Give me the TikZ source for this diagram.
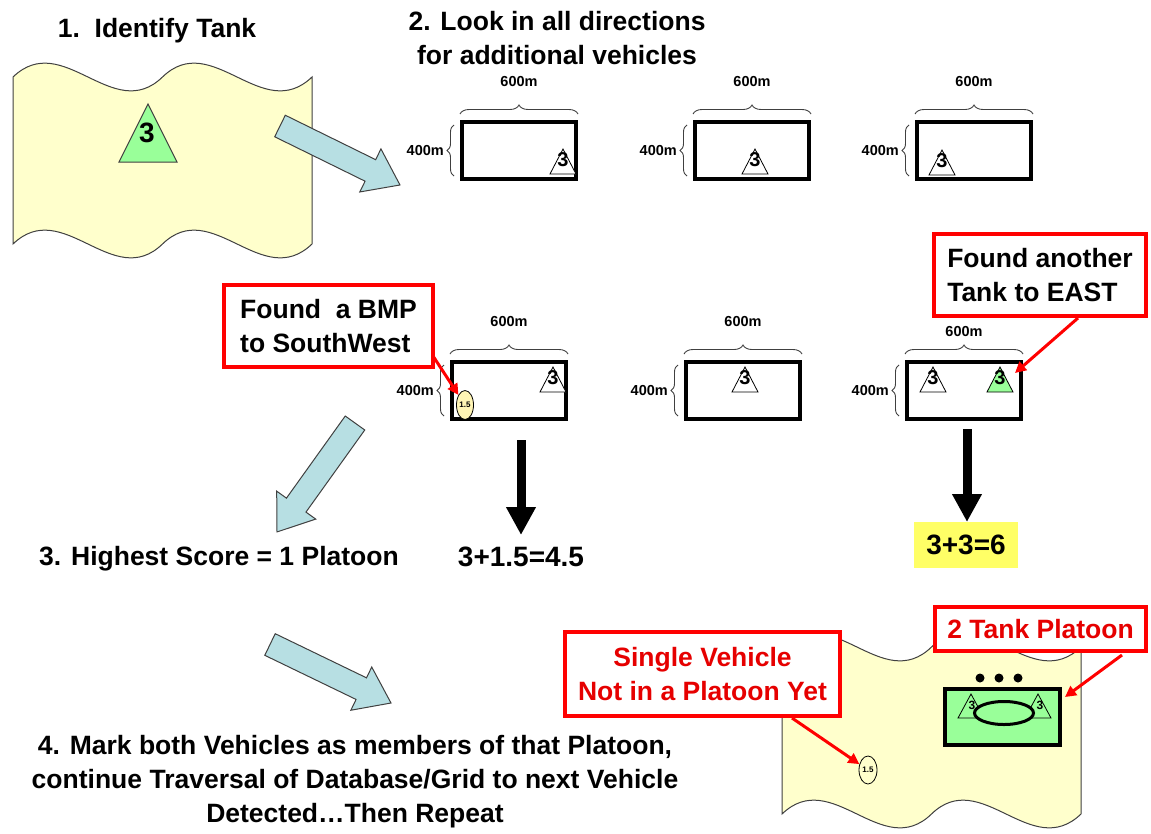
\documentclass[tikz,border=0pt]{standalone}
\usepackage{fontspec}
\setmainfont{Liberation Sans}
\usetikzlibrary{arrows.meta,decorations.pathreplacing,shapes.geometric}
\definecolor{flagY}{HTML}{FFFFCC}
\definecolor{tankG}{HTML}{99FF99}
\definecolor{arrB}{HTML}{B7DFE3}
\definecolor{edgeG}{HTML}{404040}
\definecolor{sumY}{HTML}{FFFF66}
\definecolor{bmpY}{HTML}{FFF5B5}
\definecolor{callR}{HTML}{FF0000}
\definecolor{txtR}{HTML}{E60000}
\newcommand{\fntBig}{\bfseries\fontsize{26.5}{34}\selectfont}
\newcommand{\fntSum}{\bfseries\fontsize{28}{30}\selectfont}
\newcommand{\fntDim}{\bfseries\fontsize{14.5}{16}\selectfont}
\newcommand{\fntThree}{\bfseries\fontsize{20}{20}\selectfont}
\newcommand{\fntTiny}{\bfseries\fontsize{8}{8}\selectfont}
\newcommand{\fntMini}{\bfseries\fontsize{12}{12}\selectfont}
% wavy flag
\newcommand{\flagshape}[2]{%
  \draw[flag, shift={(#1,#2)}] (13,77) .. controls (63,29) and (113,125) .. (162.5,77)
    .. controls (212,29) and (262,125) .. (312,77) -- (312,244)
    .. controls (262,292) and (212,196) .. (162.5,244)
    .. controls (113,292) and (63,196) .. (13,244) -- cycle;}
% block arrow: tail centre x, y, angle, length
\newcommand{\blockarrow}[4]{%
  \begin{scope}[shift={(#1,#2)},rotate=#3]
    \draw[barrow] (0,-12) -- ({#4-33},-12) -- ({#4-33},-24) -- (#4,0)
      -- ({#4-33},24) -- ({#4-33},12) -- (0,12) -- cycle;
  \end{scope}}
% search cell: name, left, top, y of 600m label
\newcommand{\gridcell}[4]{%
  \node[cell] (#1) at ({#2+59},{#3+30.5}) {};
  \draw[brc=9pt] (#2,{#3-6}) -- ({#2+118},{#3-6});
  \draw[brc=7pt] ({#2-6},{#3+56}) -- ({#2-6},{#3+5});
  \node[dim] (#1w) at ({#2+59},#4) {600m};
  \node[dim,anchor=east] (#1h) at ({#2-16},{#3+31}) {400m};}
% tank triangle: name, apex x, apex y, fill
\newcommand{\tank}[4]{%
  \draw[tri, fill=#4] (#2,#3) -- ({#2+13},{#3+25}) -- ({#2-13},{#3+25}) -- cycle;
  \node[three] (#1) at (#2,{#3+11}) {3};}
\begin{document}
\begin{tikzpicture}[x=1pt,y=-1pt,
  txt/.style={inner sep=0pt, outer sep=0pt, align=center, font=\fntBig},
  flag/.style={fill=flagY, draw=edgeG, line width=1pt},
  barrow/.style={fill=arrB, draw=edgeG, line width=1pt, line join=miter},
  cell/.style={draw=black, line width=4pt, minimum width=114pt, minimum height=57pt, inner sep=0pt, outer sep=0pt},
  brc/.style={decorate, decoration={brace, amplitude=#1}, draw=edgeG, line width=0.9pt},
  brc/.default=9pt,
  dim/.style={inner sep=0pt, font=\fntDim},
  tri/.style={draw=black, line width=0.8pt, line join=miter},
  three/.style={inner sep=0pt, font=\fntThree},
  callout/.style={draw=callR, line width=4pt, fill=white, inner sep=0pt, outer sep=0pt, font=\fntBig},
  redarr/.style={draw=callR, line width=3pt, -{Triangle[length=11pt,width=11pt]}},
  downarr/.style={draw=black, line width=9pt, -{Triangle[length=28pt,width=28pt]}},
  oval/.style={draw=black, ellipse, line width=0.8pt, inner sep=0pt, font=\fntTiny}
]
\useasboundingbox (0,0) rectangle (1151,833);

% ---------- step 1 ----------
\node[txt] (t1) at (157,31) {1.\ \ Identify Tank};
\flagshape{0}{0}
\draw[fill=tankG, draw=edgeG, line width=1pt] (148,104) -- (177,162) -- (119,162) -- cycle;
\node[inner sep=0pt, font=\bfseries\fontsize{28}{28}\selectfont] (bigthree) at (147,133) {3};
\blockarrow{280}{126}{-26.18}{133.7}

% ---------- step 2 ----------
\node[txt] (t2) at (557,38) {2. Look in all directions\\for additional vehicles};
\gridcell{A}{460}{120}{82}
\gridcell{B}{693}{120}{82}
\gridcell{C}{915}{120}{82}
\tank{tA}{563}{149}{white}
\tank{tB}{755}{149}{white}
\tank{tC}{942}{150}{white}

\gridcell{D}{450}{360}{322}
\gridcell{E}{684}{360}{322}
\gridcell{F}{905}{360}{332}
\tank{tD}{553}{367}{white}
\tank{tE}{745}{367}{white}
\tank{tF}{933}{367}{white}
\tank{tG}{1000}{367}{tankG}
\node[oval, fill=bmpY, minimum width=17pt, minimum height=29pt] (bmpD) at (465,405) {1.5};

% callouts row 2
\node[callout, minimum width=209pt, minimum height=82pt, align=left] (bmp) at (328.5,326) {Found\ \ a BMP\\to SouthWest};
\node[callout, minimum width=212pt, minimum height=82pt, align=left] (east) at (1040,275) {Found another\\Tank to EAST};
\coordinate (bmpS) at (433,356);
\draw[redarr] (bmpS) -- (bmpD);
\coordinate (eastS) at (1078,318);
\coordinate (eastT) at (1015,373);
\draw[redarr] (eastS) -- (eastT);

% sums
\coordinate (dDs) at (521,440);
\coordinate (dDe) at (521,535);
\draw[downarr] (dDs) -- (dDe);
\node[inner sep=0pt, font=\fntSum] (sumD) at (521,557) {3+1.5=4.5};
\coordinate (dFs) at (967,429);
\coordinate (dFe) at (967,522);
\draw[downarr] (dFs) -- (dFe);
\node[fill=sumY, minimum width=104pt, minimum height=46pt, inner sep=0pt, font=\fntSum] (sumF) at (966,545) {3+3=6};

% ---------- step 3 ----------
\blockarrow{355}{423}{-125.6}{134}
\node[txt] (t3) at (219,559) {3. Highest Score = 1 Platoon};

% ---------- step 4 ----------
\blockarrow{270}{644.5}{-25.8}{134.4}
\node[txt] (t4) at (355,782) {4. Mark both Vehicles as members of that Platoon,\\continue Traversal of Database/Grid to next Vehicle\\Detected…Then Repeat};

\flagshape{769}{570}
\node[oval, fill=flagY, minimum width=18pt, minimum height=28pt] (bmpB) at (868,770) {1.5};
\node[circle, fill=black, inner sep=0pt, minimum size=9pt] (dot1) at (980,678) {};
\node[circle, fill=black, inner sep=0pt, minimum size=9pt] (dot2) at (999,678) {};
\node[circle, fill=black, inner sep=0pt, minimum size=9pt] (dot3) at (1018,678) {};
\node[draw=black, line width=4pt, fill=tankG, minimum width=115pt, minimum height=56pt, inner sep=0pt, outer sep=0pt] (plt) at (1002.5,717) {};
\draw[tri, fill=tankG] (971,694) -- (984,718) -- (958,718) -- cycle;
\draw[tri, fill=tankG] (1038,694) -- (1051,718) -- (1025,718) -- cycle;
\node[inner sep=0pt, font=\fntMini] (p3a) at (972,705) {3};
\node[inner sep=0pt, font=\fntMini] (p3b) at (1040,705) {3};
\node[draw=black, ellipse, line width=3pt, fill=tankG, minimum width=59pt, minimum height=23pt, inner sep=0pt] (ring) at (1004,713) {};

\node[callout, text=txtR, minimum width=275pt, minimum height=84pt, align=center] (single) at (702.5,674) {Single Vehicle\\Not in a Platoon Yet};
\node[callout, text=txtR, minimum width=211pt, minimum height=44pt] (ttp) at (1040.5,629) {2 Tank Platoon};
\coordinate (singleS) at (792,718);
\draw[redarr] (singleS) -- (bmpB);
\coordinate (ttpS) at (1122,655);
\coordinate (pltT) at (1065,697);
\draw[redarr] (ttpS) -- (pltT);
\end{tikzpicture}
\end{document}
